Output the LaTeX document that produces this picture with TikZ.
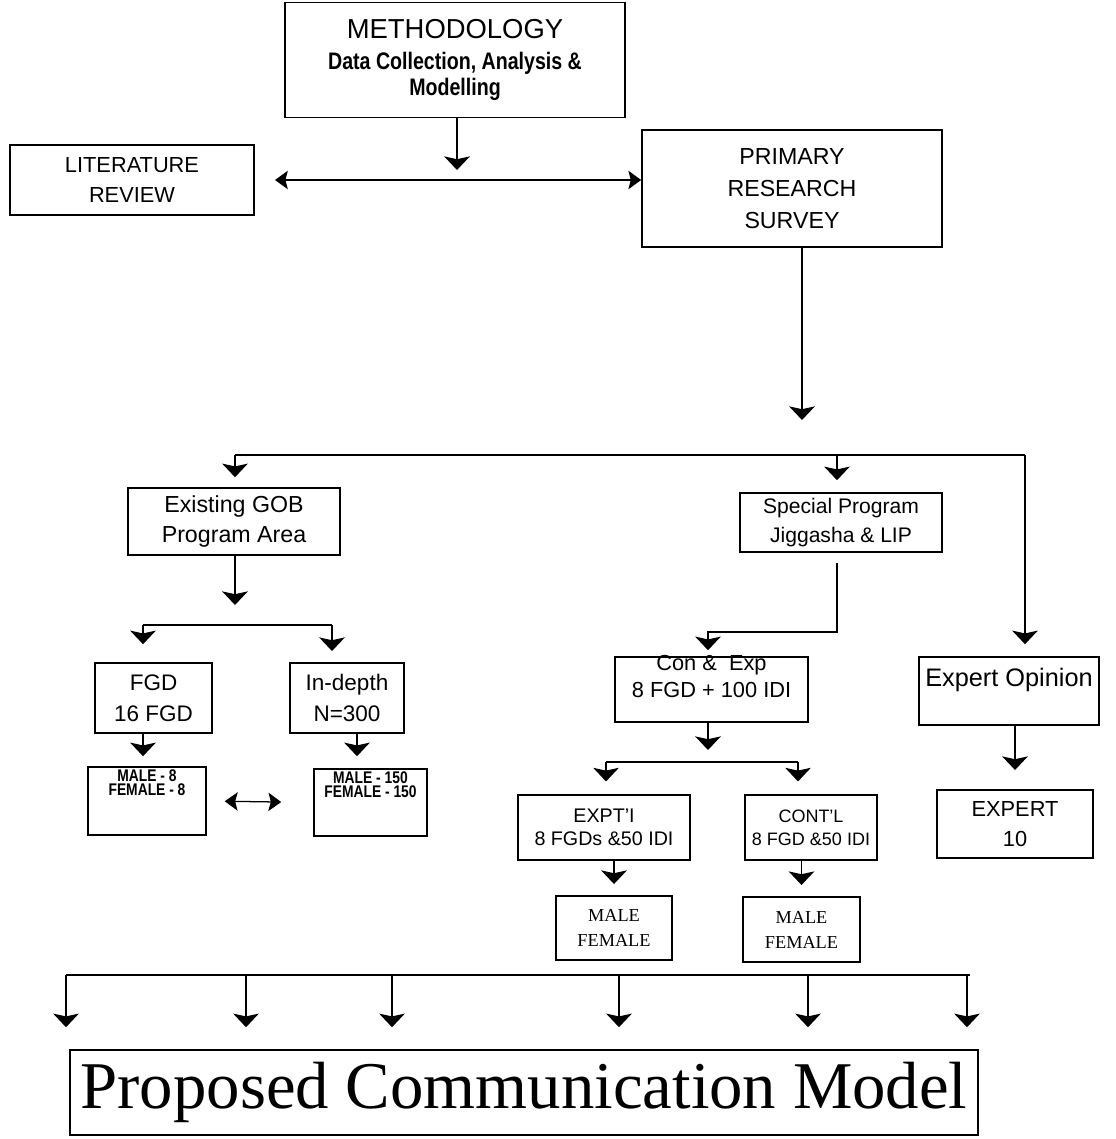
\documentclass[tikz,border=0pt]{standalone}
\usepackage{fontspec}
\setmainfont{Liberation Serif}
\setsansfont{Liberation Sans}
\newfontfamily\narrowsf{Liberation Sans}[FakeStretch=0.82]
\usetikzlibrary{arrows.meta}
\newcommand\fsz[2]{\fontsize{#1}{#2}\selectfont}

\begin{document}
\begin{tikzpicture}[x=0.025cm, y=-0.025cm,
    box/.style={draw, line width=1.1pt, inner sep=0pt, align=center, font=\sffamily},
    lab/.style={inner sep=0pt, align=center},
    conn/.style={line width=0.9pt},
    arr/.style={conn, -{Stealth[length=0.34cm, width=0.64cm, inset=0.07cm]}},
    dbl/.style={conn, {Stealth[length=0.32cm, width=0.46cm, inset=0.06cm]}-{Stealth[length=0.32cm, width=0.46cm, inset=0.06cm]}}]
  \useasboundingbox (0,0) rectangle (1116,1139);

  \node[box, minimum width=8.5cm, minimum height=2.875cm, font=\sffamily\fsz{15.5}{19}] (meth) at (455,60)
    {{\fsz{19.5}{19}METHODOLOGY}\\[3pt]{\narrowsf\bfseries\fsz{17}{19}Data Collection, Analysis \&}\\{\narrowsf\bfseries\fsz{17}{19}Modelling}};
  \node[box, minimum width=6.1cm, minimum height=1.75cm, font=\sffamily\fsz{15.5}{21.3}] (lit) at (132,180)
    {LITERATURE\\REVIEW};
  \node[box, minimum width=7.5cm, minimum height=2.925cm, font=\sffamily\fsz{16.5}{22.8}] (prim) at (792,188.5)
    {PRIMARY\\RESEARCH\\SURVEY};

  \node[box, minimum width=5.3cm, minimum height=1.675cm, font=\sffamily\fsz{16.5}{21.3}] (gob) at (234,521.5)
    {Existing GOB\\Program Area};
  \node[box, minimum width=5.05cm, minimum height=1.475cm, font=\sffamily\fsz{15}{20}] (spec) at (841,522.5)
    {Special Program\\Jiggasha \& LIP};

  \node[box, minimum width=2.925cm, minimum height=1.75cm, font=\sffamily\fsz{16}{22}] (fgd) at (153.5,698)
    {FGD\\16 FGD};
  \node[box, minimum width=2.85cm, minimum height=1.75cm, font=\sffamily\fsz{16}{22}] (indep) at (347,698)
    {In-depth\\N=300};
  \node[box, minimum width=2.95cm, minimum height=1.7cm,
    label={[lab, anchor=north, yshift=-2pt, font=\narrowsf\bfseries\fsz{12}{10.5}]north:{MALE - 8\\FEMALE - 8}}] (gobm) at (147,801) {};
  \node[box, minimum width=2.825cm, minimum height=1.675cm,
    label={[lab, anchor=north, yshift=-2pt, font=\narrowsf\bfseries\fsz{12}{10.5}]north:{MALE - 150\\FEMALE - 150}}] (indm) at (370.5,802.5) {};

  \node[box, minimum width=4.825cm, minimum height=1.625cm,
    label={[lab, anchor=north, yshift=1pt, font=\sffamily\fsz{15.5}{19}]north:{Con \&\ \ Exp\\8 FGD + 100 IDI}}] (conexp) at (711.5,689.5) {};
  \node[box, minimum width=4.5cm, minimum height=1.7cm,
    label={[lab, anchor=north, yshift=-8pt, font=\sffamily\fsz{18}{20}]north:{Expert Opinion}}] (expop) at (1009,691) {};
  \node[box, minimum width=4.3cm, minimum height=1.625cm, font=\sffamily\fsz{14}{16.5}] (expt) at (604,827.5)
    {EXPT'I\\8 FGDs \&50 IDI};
  \node[box, minimum width=3.3cm, minimum height=1.625cm, font=\sffamily\fsz{12.8}{16.5}] (contl) at (811,827.5)
    {CONT'L\\8 FGD \&50 IDI};
  \node[box, minimum width=3.9cm, minimum height=1.7cm, font=\sffamily\fsz{15.5}{21.3}] (exp10) at (1015,824)
    {EXPERT\\10};

  \node[box, minimum width=2.9cm, minimum height=1.6cm, font=\rmfamily\fsz{13}{17.8}] (mf1) at (614,928)
    {MALE\\FEMALE};
  \node[box, minimum width=2.925cm, minimum height=1.625cm, font=\rmfamily\fsz{13}{17.8}] (mf2) at (801.5,929.5)
    {MALE\\FEMALE};
  \node[box, minimum width=22.7cm, minimum height=2.125cm, font=\rmfamily\fsz{47.5}{50}] (model) at (524,1092.5)
    {Proposed Communication Model};

  \coordinate (mtip) at (457,170);
  \draw[arr] (meth.south -| mtip) -- (mtip);
  \coordinate (lend) at (275,180);
  \draw[dbl] (lend) -- (prim.west |- lend);
  \coordinate (ptip) at (802,420);
  \draw[arr] (prim.south -| ptip) -- (ptip);

  \coordinate (b1) at (235,455);
  \coordinate (b2) at (837,455);
  \coordinate (b3) at (1025,455);
  \draw[conn] (b1) -- (b3);
  \draw[arr, shorten >=0.25cm] (b1) -- (b1 |- gob.north);
  \draw[arr, shorten >=0.3cm] (b2) -- (b2 |- spec.north);
  \draw[arr, shorten >=0.3cm] (b3) -- (b3 |- expop.north);

  \coordinate (gtip) at (235,605);
  \draw[arr] (gob.south -| gtip) -- (gtip);
  \coordinate (g1) at (143,625);
  \coordinate (g2) at (332,625);
  \draw[conn] (g1) -- (g2);
  \draw[arr, shorten >=0.45cm] (g1) -- (g1 |- fgd.north);
  \draw[arr, shorten >=0.28cm] (g2) -- (g2 |- indep.north);
  \draw[arr, shorten >=0.25cm] (fgd.south -| g1) -- (g1 |- gobm.north);
  \coordinate (i1) at (357,733);
  \draw[arr, shorten >=0.3cm] (i1) -- (i1 |- indm.north);
  \draw[dbl, shorten <=0.45cm, shorten >=0.8cm] (gobm.east) -- (indm.west);

  \coordinate (s1) at (837,632);
  \coordinate (s2) at (708,632);
  \draw[arr, shorten <=0.25cm, shorten >=0.15cm] (spec.south -| s1) -- (s1) -- (s2) -- (s2 |- conexp.north);
  \coordinate (ctip) at (708,750);
  \draw[arr] (conexp.south -| ctip) -- (ctip);
  \coordinate (c1) at (606,762);
  \coordinate (c2) at (798,762);
  \draw[conn] (c1) -- (c2);
  \draw[arr, shorten >=0.32cm] (c1) -- (c1 |- expt.north);
  \draw[arr, shorten >=0.32cm] (c2) -- (c2 |- contl.north);
  \coordinate (etip) at (1015,770);
  \draw[arr] (expop.south -| etip) -- (etip);
  \draw[arr, shorten >=0.28cm] (expt.south -| mf1) -- (mf1.north);
  \draw[arr, shorten >=0.28cm] (contl.south -| mf2) -- (mf2.north);

  \coordinate (d1) at (66,975);
  \coordinate (d6) at (970,975);
  \draw[conn] (d1) -- (d6);
  \foreach \dx in {66,246,392,619,808,967}
    \draw[arr, shorten >=0.55cm] (\dx,975) -- (\dx,0 |- model.north);
\end{tikzpicture}
\end{document}
